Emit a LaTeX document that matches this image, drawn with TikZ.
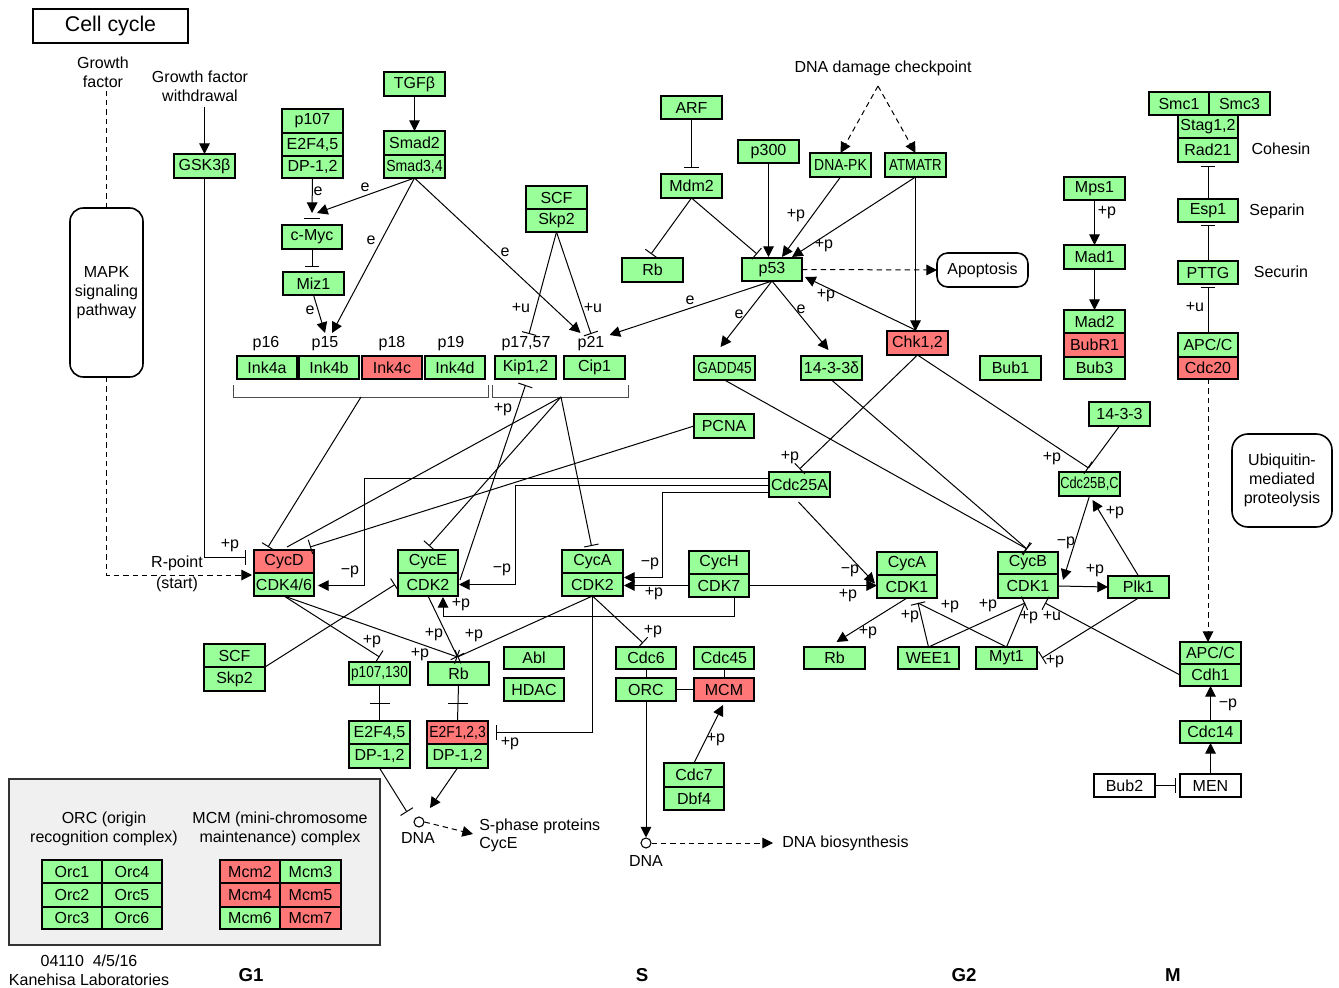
\documentclass[tikz,border=0pt]{standalone}
\usepackage{fontspec}
\setmainfont{Liberation Sans}
\usepackage{graphicx}
\usetikzlibrary{arrows.meta,calc}
\definecolor{kg}{RGB}{153,255,153}
\definecolor{kr}{RGB}{255,119,119}
\definecolor{kgray}{RGB}{240,240,240}
\newcommand\kf{\fontsize{12pt}{14.25pt}\selectfont}
\newcommand\nw[2]{\scalebox{#1}[1]{#2}}
\tikzset{
 kbox/.style={draw=black,line width=1.5pt,inner sep=0pt,outer sep=0pt,font=\kf},
 ln/.style={line width=0.75pt},
 arr/.style={ln,-{Triangle[length=8pt,width=8pt]}},
 inh/.style={ln,-{Bar[width=11pt]}},
 dsh/.style={ln,dash pattern=on 4pt off 3pt},
 darr/.style={dsh,-{Triangle[length=8pt,width=8pt]}},
 lbl/.style={font=\kf,inner sep=0pt},
}
\newcommand\bx[8][]{\node[kbox,fill=#7,minimum width={(#5-#3)*0.75pt},minimum height={(#6-#4)*0.75pt},#1] (#2) at ({(#3+#5)/2},{(#4+#6)/2}) {#8};}
\newcommand\lb[4]{\node[lbl] (#1) at (#2,#3) {#4};}
\begin{document}
\begin{tikzpicture}[x=0.75pt,y=-0.75pt]
\useasboundingbox (0,0) rectangle (1339,988);
\fill[white] (0,0) rectangle (1339,988);
% ---------- boxes ----------
\bx[font={\fontsize{16pt}{18pt}\selectfont},line width=1.2pt]{title}{33}{9}{188}{43}{white}{Cell cycle}
\bx[rounded corners=10pt,line width=1.2pt,align=center]{mapk}{70}{208}{143}{377}{white}{MAPK\\signaling\\pathway}
\bx{gsk}{174}{154}{235}{178}{kg}{GSK3β}
\bx{p107}{282}{109}{343}{133}{kg}{p107}
\bx{e2fa}{282}{133}{343}{156}{kg}{E2F4,5}
\bx{dpa}{282}{156}{343}{178}{kg}{DP-1,2}
\bx{tgfb}{384}{72}{445}{96}{kg}{TGFβ}
\bx{smadb}{384}{131}{445}{155}{kg}{Smad2}
\bx{smadc}{384}{155}{445}{178}{kg}{\nw{0.88}{Smad3,4}}
\bx{cmyc}{282}{225}{342}{249}{kg}{c-Myc}
\bx{miz}{283}{272}{344}{295}{kg}{Miz1}
\bx{inka}{237}{356}{297}{379}{kg}{Ink4a}
\bx{inkb}{299}{356}{359}{379}{kg}{Ink4b}
\bx{inkc}{362}{356}{422}{379}{kr}{Ink4c}
\bx{inkd}{425}{356}{485}{379}{kg}{Ink4d}
\bx{kip}{495}{356}{556}{379}{kg}{Kip1,2}
\bx{cip}{564}{356}{625}{379}{kg}{Cip1}
\bx{scfa}{526}{186}{587}{209}{kg}{SCF}
\bx{skpa}{526}{209}{587}{232}{kg}{Skp2}
\bx{arf}{661}{96}{722}{119}{kg}{ARF}
\bx{mdm}{661}{174}{722}{198}{kg}{Mdm2}
\bx{rba}{622}{258}{683}{282}{kg}{Rb}
\bx{pthree}{738}{140}{799}{163}{kg}{p300}
\bx{dnapk}{810}{153}{871}{177}{kg}{\nw{0.87}{DNA-PK}}
\bx{atm}{885}{153}{946}{177}{kg}{\nw{0.83}{ATMATR}}
\bx{p53}{742}{258}{802}{281}{kg}{p53}
\bx{chk}{887}{331}{948}{355}{kr}{Chk1,2}
\bx{gadd}{694}{356}{755}{380}{kg}{\nw{0.85}{GADD45}}
\bx{dlt}{801}{356}{862}{380}{kg}{14-3-3δ}
\bx{bubone}{980}{356}{1041}{380}{kg}{Bub1}
\bx[rounded corners=8pt,line width=1.2pt]{apop}{937}{253}{1028}{287}{white}{Apoptosis}
\bx{mps}{1064}{177}{1125}{200}{kg}{Mps1}
\bx{madone}{1064}{245}{1125}{269}{kg}{Mad1}
\bx{madtwo}{1064}{310}{1125}{333}{kg}{Mad2}
\bx{bubr}{1064}{333}{1125}{357}{kr}{BubR1}
\bx{bubthree}{1064}{357}{1125}{379}{kg}{Bub3}
\bx{smcone}{1149}{92}{1209}{115}{kg}{Smc1}
\bx{smcthree}{1209}{92}{1270}{115}{kg}{Smc3}
\bx{stag}{1178}{115}{1238}{138}{kg}{Stag1,2}
\bx{rad}{1178}{138}{1238}{162}{kg}{Rad21}
\bx{esp}{1178}{199}{1238}{222}{kg}{Esp1}
\bx{pttg}{1178}{261}{1238}{284}{kg}{PTTG}
\bx{apca}{1178}{333}{1238}{357}{kg}{APC/C}
\bx{cdctw}{1178}{357}{1238}{379}{kr}{Cdc20}
\bx{pcna}{694}{414}{754}{438}{kg}{PCNA}
\bx{cdcta}{769}{472}{830}{497}{kg}{Cdc25A}
\bx{fourt}{1089}{402}{1150}{426}{kg}{14-3-3}
\bx{cdctb}{1059}{472}{1120}{496}{kg}{\nw{0.8}{Cdc25B,C}}
\bx{cycd}{254}{550}{314}{573}{kr}{CycD}
\bx{cdkd}{254}{573}{314}{596}{kg}{CDK4/6}
\bx{cyce}{398}{550}{458}{573}{kg}{CycE}
\bx{cdke}{398}{573}{458}{596}{kg}{CDK2}
\bx{cyca}{562}{550}{623}{573}{kg}{CycA}
\bx{cdka}{562}{573}{623}{596}{kg}{CDK2}
\bx{cych}{689}{551}{749}{574}{kg}{CycH}
\bx{cdkh}{689}{574}{749}{597}{kg}{CDK7}
\bx{cycaa}{877}{552}{937}{575}{kg}{CycA}
\bx{cdkaa}{877}{575}{937}{598}{kg}{CDK1}
\bx{cycb}{998}{552}{1058}{574}{kg}{CycB}
\bx{cdkb}{998}{574}{1058}{598}{kg}{CDK1}
\bx{plk}{1108}{576}{1169}{598}{kg}{Plk1}
\bx{scfb}{204}{644}{265}{667}{kg}{SCF}
\bx{skpb}{204}{667}{265}{691}{kg}{Skp2}
\bx{ponethirty}{349}{662}{410}{685}{kg}{\nw{0.85}{p107,130}}
\bx{rbb}{428}{662}{489}{685}{kg}{Rb}
\bx{abl}{504}{647}{564}{669}{kg}{Abl}
\bx{hdac}{504}{678}{564}{701}{kg}{HDAC}
\bx{efb}{349}{721}{410}{744}{kg}{E2F4,5}
\bx{dpb}{349}{744}{410}{768}{kg}{DP-1,2}
\bx{efc}{427}{721}{488}{744}{kr}{\nw{0.87}{E2F1,2,3}}
\bx{dpc}{427}{744}{488}{768}{kg}{DP-1,2}
\bx{cdcsix}{616}{647}{676}{669}{kg}{Cdc6}
\bx{orc}{616}{678}{676}{701}{kg}{ORC}
\bx{cdcff}{694}{647}{754}{669}{kg}{Cdc45}
\bx{mcm}{694}{678}{754}{701}{kr}{MCM}
\bx{cdcseven}{664}{763}{724}{787}{kg}{Cdc7}
\bx{dbf}{664}{787}{724}{810}{kg}{Dbf4}
\bx{rbc}{804}{647}{865}{669}{kg}{Rb}
\bx{wee}{898}{647}{959}{669}{kg}{WEE1}
\bx{myt}{976}{647}{1037}{669}{kg}{Myt1}
\bx{apcb}{1180}{642}{1241}{664}{kg}{APC/C}
\bx{cdh}{1180}{664}{1241}{686}{kg}{Cdh1}
\bx{cdcft}{1180}{721}{1241}{743}{kg}{Cdc14}
\bx{men}{1180}{774}{1241}{797}{white}{MEN}
\bx{bubtwo}{1094}{774}{1155}{797}{white}{Bub2}
\bx[rounded corners=12pt,line width=1.2pt,align=center]{ubq}{1232}{434}{1332}{527}{white}{Ubiquitin-\\mediated\\proteolysis}
\bx[line width=1.2pt,draw=black!80]{gbox}{9}{779}{380}{945}{kgray}{}
\bx{orcone}{42}{860}{102}{883}{kg}{Orc1}
\bx{orcfour}{102}{860}{162}{883}{kg}{Orc4}
\bx{orctwo}{42}{883}{102}{907}{kg}{Orc2}
\bx{orcfive}{102}{883}{162}{907}{kg}{Orc5}
\bx{orcthree}{42}{907}{102}{929}{kg}{Orc3}
\bx{orcsix}{102}{907}{162}{929}{kg}{Orc6}
\bx{mcmtwo}{220}{860}{280}{883}{kr}{Mcm2}
\bx{mcmthree}{280}{860}{341}{883}{kg}{Mcm3}
\bx{mcmfour}{220}{883}{280}{907}{kr}{Mcm4}
\bx{mcmfive}{280}{883}{341}{907}{kr}{Mcm5}
\bx{mcmsix}{220}{907}{280}{929}{kg}{Mcm6}
\bx{mcmseven}{280}{907}{341}{929}{kr}{Mcm7}
\node[circle,draw,line width=0.8pt,inner sep=0pt,minimum size=7.5pt] (dnaa) at (419,822) {};
\node[circle,draw,line width=0.8pt,inner sep=0pt,minimum size=7.5pt] (dnab) at (646,843) {};
% ---------- texts ----------
\node[lbl,align=center] (gf) at (103,72) {Growth\\factor};
\node[lbl,align=center] (gfw) at (200,86) {Growth factor\\withdrawal};
\lb{rpta}{177}{563}{R-point}
\lb{rptb}{177}{584}{(start)}
\lb{ddc}{883}{68}{DNA damage checkpoint}
\lb{cohesin}{1281}{149}{Cohesin}
\lb{separin}{1277}{211}{Separin}
\lb{securin}{1281}{272}{Securin}
\lb{tpsixteen}{266}{344}{p16}
\lb{tpfifteen}{325}{344}{p15}
\lb{tpeighteen}{392}{344}{p18}
\lb{tpnineteen}{451}{344}{p19}
\lb{tpseventeen}{526}{344}{p17,57}
\lb{tptwentyone}{591}{344}{p21}
\lb{dnatxta}{418}{838}{DNA}
\lb{dnatxtb}{646}{861}{DNA}
\node[lbl,anchor=west] (sprot) at (479,826) {S-phase proteins};
\node[lbl,anchor=west] (sprotb) at (479,845) {CycE};
\node[lbl,anchor=west] (dbio) at (782,843) {DNA biosynthesis};
\node[lbl,align=center] (orccap) at (104,829) {ORC (origin\\recognition complex)};
\node[lbl,align=center] (mcmcap) at (280,829) {MCM (mini-chromosome\\maintenance) complex};
\node[lbl,align=center] (foot) at (89,970) {04110\ \ 4/5/16\\Kanehisa Laboratories};
\node[font={\fontsize{14pt}{16pt}\selectfont\bfseries}] (gone) at (251,975) {G1};
\node[font={\fontsize{14pt}{16pt}\selectfont\bfseries}] (sphase) at (642,975) {S};
\node[font={\fontsize{14pt}{16pt}\selectfont\bfseries}] (gtwo) at (964,975) {G2};
\node[font={\fontsize{14pt}{16pt}\selectfont\bfseries}] (mph) at (1173,975) {M};
% edge labels
\lb{la}{318}{191}{e}
\lb{lb}{365}{187}{e}
\lb{lc}{371}{240}{e}
\lb{ld}{505}{252}{e}
\lb{le}{310}{310}{e}
\lb{lf}{230}{546}{+p}
\lb{lg}{503}{410}{+p}
\lb{lh}{521}{308}{+u}
\lb{li}{593}{308}{+u}
\lb{lj}{796}{216}{+p}
\lb{lk}{824}{246}{+p}
\lb{ll}{826}{296}{+p}
\lb{lm}{690}{300}{e}
\lb{ln}{739}{314}{e}
\lb{lo}{801}{309}{e}
\lb{lp}{790}{458}{+p}
\lb{lq}{1052}{459}{+p}
\lb{lr}{350}{572}{−p}
\lb{ls}{502}{570}{−p}
\lb{lt}{650}{564}{−p}
\lb{lu}{654}{594}{+p}
\lb{lv}{848}{596}{+p}
\lb{lw}{461}{605}{+p}
\lb{lx}{850}{571}{−p}
\lb{ly}{1066}{543}{−p}
\lb{lz}{1095}{571}{+p}
\lb{maa}{1115}{513}{+p}
\lb{mab}{1055}{662}{+p}
\lb{mac}{868}{633}{+p}
\lb{mad}{910}{617}{+p}
\lb{mae}{950}{607}{+p}
\lb{maf}{988}{606}{+p}
\lb{mag}{1029}{618}{+p}
\lb{mah}{1052}{616}{+u}
\lb{mai}{1228}{705}{−p}
\lb{maj}{1107}{213}{+p}
\lb{mak}{1195}{307}{+u}
\lb{mal}{372}{642}{+p}
\lb{mam}{420}{655}{+p}
\lb{man}{434}{635}{+p}
\lb{mao}{474}{636}{+p}
\lb{map}{510}{744}{+p}
\lb{maq}{653}{632}{+p}
\lb{mar}{716}{740}{+p}
% ---------- connectors ----------
\draw[dsh] ($(gf.south -| mapk.north)+(0,3)$) -- (mapk.north);
\draw[darr] (mapk.south) |- ($(cycd.south west)+(-2,2)$);
\draw[arr] ($(gfw.south -| gsk.north)+(0,5)$) -- (gsk.north);
\draw[inh] (gsk.south) |- ($(cycd.west)+(-8,-4)$);
\draw[arr] (tgfb.south) -- (smadb.north);
\draw[arr] (dpa.south) -- ($(cmyc.north)+(0,-12)$);
\draw[ln] ($(cmyc.north)+(-8,-6)$) -- ($(cmyc.north)+(8,-6)$);
\draw[arr] (smadc.south) -- ($(cmyc.north)+(5,-12)$);
\draw[arr] (smadc.south) -- ($(inkb.north)+(3,-23)$);
\draw[arr] (smadc.south) -- ($(cip.north)+(-14,-23)$);
\draw[inh] (cmyc.south) -- ($(cmyc.south)+(0,18)$);
\draw[arr] (miz.south) -- ($(inkb.north)+(-4,-23)$);
\draw[ln,draw=black!70] (233,385) -- (233,397) -- (488,397) -- (488,385);
\coordinate (inkbr) at (361,397);
\draw[ln,draw=black!70] (492,385) -- (492,397) -- (628,397) -- (628,385);
\coordinate (cipbr) at (561,397);
\draw[inh] (inkbr) -- ($(cycd.north)+(-16,-3)$);
\draw[ln] (cipbr) -- ($(cycd.north)+(3,-3)$);
\draw[inh] (pcna.west) -- ($(cycd.north)+(26,-3)$);
\draw[inh] (cipbr) -- ($(cyce.north)+(1,-4)$);
\draw[inh] (cipbr) -- ($(cyca.north)+(-1,-4)$);
\draw[inh] ($(cyce.south east)+(2,7)$) -- ($(kip.south)+(0,6)$);
\draw[inh] (skpa.south) -- ($(kip.north)+(3.5,-22)$);
\draw[inh] (skpa.south) -- ($(cip.north)+(-3.5,-22)$);
\draw[inh] (arf.south) -- ($(mdm.north)+(0,-6)$);
\draw[inh] (mdm.south) -- ($(rba.north)+(-1.5,-4)$);
\draw[inh] (mdm.south) -- ($(p53.north)+(-15,-4)$);
\draw[arr] (pthree.south) -- ($(p53.north)+(-3.5,-1)$);
\coordinate (ddcpt) at (878,86);
\draw[darr] (ddcpt) -- (dnapk.north);
\draw[darr] (ddcpt) -- (atm.north);
\draw[arr] (dnapk.south) -- ($(p53.north)+(10,-1)$);
\draw[arr] (atm.south) -- ($(p53.north)+(20,-1)$);
\draw[arr] (atm.south) -- (atm.south |- chk.north);
\draw[darr] (p53.east) -- (apop.west);
\draw[arr] (chk.north) -- ($(p53.south east)+(3,-4)$);
\draw[arr] (p53.south) -- ($(cip.north)+(15,-21)$);
\draw[arr] (p53.south) -- ($(gadd.north)+(-4,-9)$);
\draw[arr] (p53.south) -- ($(dlt.north)+(-3,-6)$);
\draw[inh] (chk.south) -- ($(cdcta.north)+(0,-3)$);
\draw[inh] (chk.south) -- ($(cdctb.north)+(-1,-4)$);
\draw[ln] (fourt.south) -- ($(cdctb.north)+(-1,-4)$);
\draw[inh] (gadd.south) -- ($(cycb.north)+(-1,-3)$);
\draw[inh] (dlt.south) -- ($(cycb.north)+(-1,-3)$);
\draw[arr] ($(cdcta.west)+(0,-6)$) -| ($(cdkd.east)+(50,1)$) -- ($(cdkd.east)+(4,1)$);
\draw[arr] ($(cdcta.west)+(0,1)$) -| ($(cdke.east)+(57,0)$) -- ($(cdke.east)+(1,0)$);
\draw[arr] ($(cdcta.west)+(0,8)$) -| ($(cdka.east)+(39,-7)$) -- ($(cdka.east)+(1,-7)$);
\draw[arr] (cdkh.west) -- ($(cdka.east)+(1,1)$);
\draw[arr] (cdkh.east) -- ($(cdkaa.west)+(0,-1)$);
\draw[arr] ($(cdkh.south)+(15,0)$) |- ($(cdke.south)+(15,20)$) -- ($(cdke.south)+(15,1)$);
\draw[arr] ($(cdcta.south)+(-1,5)$) -- ($(cdkaa.west)+(-2,-3)$);
\draw[arr] (cdctb.south) -- ($(cdkb.east)+(5,-6)$);
\draw[arr] (cdkb.east) -- (plk.west);
\draw[arr] (plk.north) -- ($(cdctb.south)+(3,4)$);
\draw[inh] (plk.south) -- ($(myt.east)+(5,0)$);
\draw[arr] (cdkaa.south) -- ($(rbc.north)+(2,-5)$);
\draw[inh] (wee.north) -- ($(cdkaa.south)+(11,5)$);
\draw[inh] (wee.north) -- ($(cdkb.south)+(-3,5)$);
\draw[ln] (myt.north) -- ($(cdkaa.south)+(11,5)$);
\draw[ln] (myt.north) -- ($(cdkb.south)+(-3,5)$);
\draw[inh] (cdh.west) -- ($(cdkb.south)+(17,5)$);
\draw[darr] (cdctw.south) -- (cdctw.south |- apcb.north);
\draw[arr] (cdcft.north) -- (cdh.south);
\draw[arr] (men.north) -- (cdcft.south);
\draw[inh] (bubtwo.east) -- ($(men.west)+(-4,0)$);
\draw[arr] (mps.south) -- (madone.north);
\draw[arr] (madone.south) -- (madtwo.north);
\draw[inh] (esp.north) -- ($(rad.south)+(0,4)$);
\draw[inh] (pttg.north) -- ($(esp.south)+(0,3)$);
\draw[inh] (apca.north) -- ($(pttg.south)+(0,3)$);
\draw[inh] (skpb.north east) -- ($(cdke.west)+(-3,0)$);
\draw[inh] (cdkd.south) -- ($(ponethirty.north)+(0,-5)$);
\coordinate (rbbar) at ($(rbb.north)+(-1,-5)$);
\draw[inh] (cdkd.south) -- (rbbar);
\draw[inh] (cdke.south) -- (rbbar);
\draw[inh] (cdka.south) -- (rbbar);
\draw[inh] (cdka.south) |- ($(efc.east)+(8,0)$);
\draw[inh] (cdka.south) -- ($(cdcsix.north)+(-3,-4)$);
\draw[ln] (ponethirty.south) -- (efb.north);
\draw[ln] ($(ponethirty.south)!0.5!(efb.north)+(-10,0)$) -- ($(ponethirty.south)!0.5!(efb.north)+(10,0)$);
\draw[ln] (rbb.south) -- (efc.north);
\draw[ln] ($(rbb.south)!0.5!(efc.north)+(-10,0)$) -- ($(rbb.south)!0.5!(efc.north)+(10,0)$);
\draw[inh] (dpb.south) -- ($(dnaa)+(-12,-10)$);
\draw[arr] (dpc.south) -- ($(dnaa)+(11,-14)$);
\draw[darr] (dnaa.east) -- ($(sprot.west)+(-6,8)$);
\draw[ln] (cdcsix.south) -- (orc.north);
\draw[ln] (cdcff.south) -- (mcm.north);
\draw[ln] (orc.east) -- (mcm.west);
\draw[arr] (cdcseven.north) -- ($(mcm.south)+(-1,4)$);
\draw[arr] (orc.south) -- (dnab.north);
\draw[darr] (dnab.east) -- ($(dbio.west)+(-9,0)$);
\end{tikzpicture}
\end{document}
